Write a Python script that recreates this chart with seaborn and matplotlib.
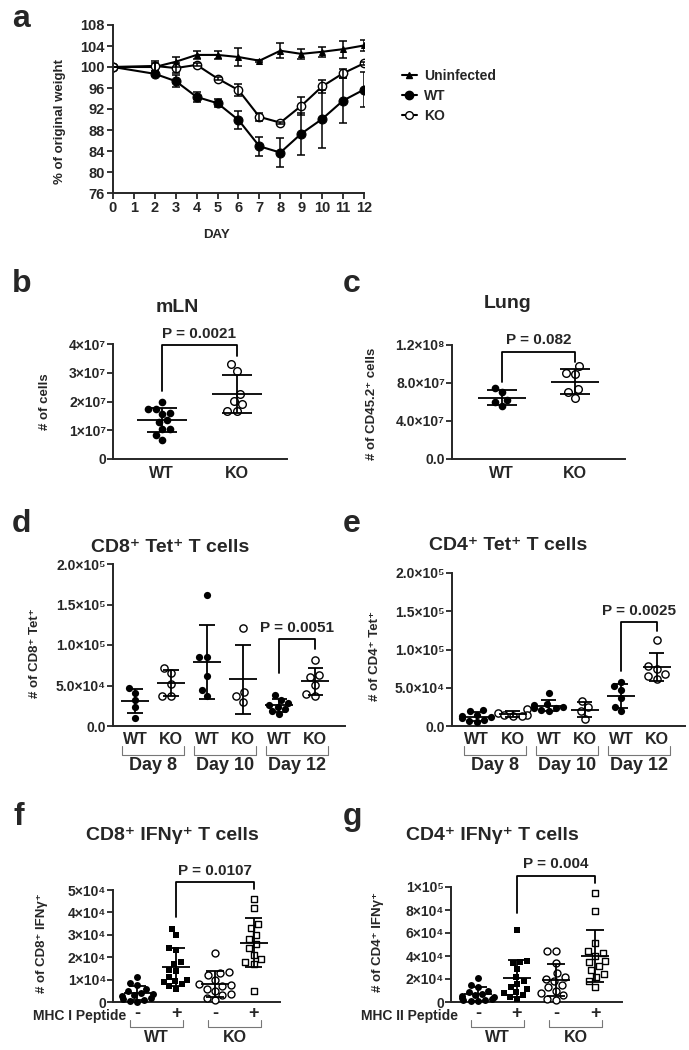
import numpy as np
import pandas as pd
import matplotlib
matplotlib.use('Agg')
import matplotlib.pyplot as plt
import matplotlib.transforms as mtransforms
from matplotlib.lines import Line2D
import seaborn as sns

W, H = 689, 1050

# ---------------- datos ----------------
# a: peso corporal (media y SD por dia)
days = [0, 2, 3, 4, 5, 6, 7, 8, 9, 10, 11, 12]
uninf_mean = [100, 100.0, 101.0, 102.3, 102.3, 101.9, 101.2, 103.1, 102.5, 102.9, 103.4, 104.1]
uninf_sd = [0, 0.8, 1.0, 0.7, 0.7, 1.7, 0.2, 1.4, 0.9, 1.0, 1.6, 1.0]
wt_mean = [100, 98.7, 97.3, 94.3, 93.1, 89.9, 84.9, 83.7, 87.3, 90.1, 93.6, 95.7]
wt_sd = [0, 0.4, 1.2, 1.0, 0.8, 1.8, 1.8, 2.8, 4.0, 5.5, 4.3, 3.3]
ko_mean = [100, 100.2, 99.8, 100.4, 97.8, 95.6, 90.5, 89.4, 92.6, 96.3, 98.8, 100.7]
ko_sd = [0, 1.0, 0.9, 0.3, 0.3, 1.2, 0.8, 0.2, 1.7, 1.3, 0.8, 0.3]

# b: mLN
b_wt = np.array([2.0, 1.75, 1.75, 1.6, 1.55, 1.35, 1.3, 1.05, 1.05, 0.85, 0.65]) * 1e7
b_ko = np.array([3.31, 3.06, 2.26, 2.02, 1.91, 1.66, 1.66]) * 1e7
b_ticks = [0, 1e7, 2e7, 3e7, 4e7]
b_labels = ['0', '1×10⁷', '2×10⁷', '3×10⁷', '4×10⁷']

# c: Lung
c_wt = np.array([7.45, 7.1, 6.2, 6.0, 5.6]) * 1e7
c_ko = np.array([9.8, 9.1, 8.95, 7.35, 7.1, 6.45]) * 1e7
c_ticks = [0, 4e7, 8e7, 1.2e8]
c_labels = ['0.0', '4.0×10⁷', '8.0×10⁷', '1.2×10⁸']

# d: CD8+ Tet+
d_wt8 = np.array([4.7, 4.1, 3.2, 2.3, 1.0]) * 1e4
d_ko8 = np.array([7.2, 6.6, 5.2, 3.7, 3.7]) * 1e4
d_wt10 = np.array([16.2, 8.5, 8.5, 6.2, 4.4, 3.7]) * 1e4
d_ko10 = np.array([12.1, 4.2, 3.7, 3.0]) * 1e4
d_wt12 = np.array([3.8, 3.2, 2.9, 2.6, 2.4, 2.1, 1.8, 1.5]) * 1e4
d_ko12 = np.array([8.1, 6.3, 6.0, 5.1, 3.9, 3.7]) * 1e4

# e: CD4+ Tet+
e_wt8 = np.array([2.1, 2.0, 1.5, 1.3, 1.2, 1.0, 0.8, 0.6, 0.5]) * 1e4
e_ko8 = np.array([2.2, 1.7, 1.5, 1.4, 1.3, 1.3]) * 1e4
e_wt10 = np.array([4.3, 2.9, 2.7, 2.5, 2.4, 2.3, 2.1, 2.0]) * 1e4
e_ko10 = np.array([3.3, 2.5, 1.9, 0.9]) * 1e4
e_wt12 = np.array([5.8, 5.2, 4.7, 3.6, 2.5, 1.9]) * 1e4
e_ko12 = np.array([11.2, 7.8, 7.5, 6.8, 6.5, 6.2]) * 1e4

tet_groups = ['WT8', 'KO8', 'WT10', 'KO10', 'WT12', 'KO12']
tet_xlabels = ['WT', 'KO', 'WT', 'KO', 'WT', 'KO']
tet_days = ['Day 8', 'Day 10', 'Day 12']
tet_ticks = [0, 5e4, 1e5, 1.5e5, 2e5]
tet_labels = ['0.0', '5.0×10⁴', '1.0×10⁵', '1.5×10⁵', '2.0×10⁵']

# f: CD8+ IFNg+
f_wt_neg = np.array([1.1, 0.85, 0.75, 0.6, 0.5, 0.4, 0.35, 0.3, 0.25, 0.2, 0.15, 0.1, 0.05, 0.02]) * 1e4
f_wt_pos = np.array([3.25, 3.0, 2.4, 2.3, 1.8, 1.7, 1.45, 1.4, 1.1, 1.0, 0.95, 0.9, 0.8, 0.7, 0.6]) * 1e4
f_ko_neg = np.array([2.2, 1.35, 1.3, 1.2, 1.0, 0.8, 0.75, 0.7, 0.6, 0.5, 0.35, 0.3, 0.2, 0.1]) * 1e4
f_ko_pos = np.array([4.6, 4.2, 3.5, 3.3, 3.0, 2.8, 2.6, 2.4, 2.1, 1.9, 1.8, 1.7, 0.5]) * 1e4
f_ticks = [0, 1e4, 2e4, 3e4, 4e4, 5e4]
f_labels = ['0', '1×10⁴', '2×10⁴', '3×10⁴', '4×10⁴', '5×10⁴']

# g: CD4+ IFNg+
g_wt_neg = np.array([2.1, 1.5, 1.3, 1.0, 0.9, 0.7, 0.6, 0.5, 0.4, 0.35, 0.3, 0.2, 0.15, 0.1, 0.05]) * 1e4
g_wt_pos = np.array([6.3, 3.6, 3.5, 3.4, 2.9, 2.2, 1.8, 1.6, 1.3, 1.1, 0.9, 0.8, 0.6, 0.4, 0.3]) * 1e4
g_ko_neg = np.array([4.4, 4.4, 3.4, 2.5, 2.2, 2.0, 1.8, 1.5, 1.3, 1.0, 0.8, 0.6, 0.3, 0.2]) * 1e4
g_ko_pos = np.array([9.5, 7.9, 5.1, 4.4, 4.3, 4.0, 3.6, 3.5, 3.1, 2.8, 2.4, 2.2, 1.8, 1.3]) * 1e4
g_ticks = [0, 2e4, 4e4, 6e4, 8e4, 1e5]
g_labels = ['0', '2×10⁴', '4×10⁴', '6×10⁴', '8×10⁴', '1×10⁵']

ifn_groups = ['WTneg', 'WTpos', 'KOneg', 'KOpos']
ifn_xlabels = ['-', '+', '-', '+']

# ---------------- estilo ----------------
sns.set_style('ticks')
plt.rcParams['font.family'] = ['Liberation Sans', 'DejaVu Sans']
plt.rcParams['font.weight'] = 'bold'
plt.rcParams['axes.linewidth'] = 1.4

fig = plt.figure(figsize=(W / 100, H / 100), dpi=100)


def py(p):
    return 1 - p / H


def px(p):
    return p / W


def make_axes(left, top, right, bottom):
    return fig.add_axes([left / W, 1 - bottom / H, (right - left) / W, (bottom - top) / H])


def estilo(ax, ticks, labels, ylim, ysize=10):
    sns.despine(ax=ax)
    ax.set_ylim(*ylim)
    ax.set_yticks(ticks)
    ax.set_yticklabels(labels, fontsize=ysize, fontweight='bold')
    ax.tick_params(axis='y', length=4, width=1.3, pad=1)
    ax.set_xlabel('')
    ax.set_ylabel('')


def puntos(ax, vals, group, order, marker='o', filled=True, size=5.5):
    df = pd.DataFrame({'g': [group] * len(vals), 'v': vals})
    if filled:
        sns.swarmplot(data=df, x='g', y='v', order=order, ax=ax, marker=marker,
                      size=size, color='black', linewidth=0)
    else:
        sns.swarmplot(data=df, x='g', y='v', order=order, ax=ax, marker=marker,
                      size=size, color='white', edgecolor='black', linewidth=1.0)


def media_sd(ax, pos, vals, hm=0.33, hc=0.2):
    m = np.mean(vals)
    s = np.std(vals, ddof=1)
    kw = dict(color='black', lw=1.3, zorder=5)
    ax.hlines(m, pos - hm, pos + hm, **kw)
    ax.vlines(pos, m - s, m + s, **kw)
    ax.hlines([m - s, m + s], pos - hc, pos + hc, **kw)


def corchete(ax, x1, x2, y1, y2, ytop, texto):
    ax.plot([x1, x1, x2, x2], [y1, ytop, ytop, y2], color='black', lw=1.3, clip_on=False)
    ax.annotate(texto, xy=((x1 + x2) / 2, ytop), xytext=(0, 3), textcoords='offset points',
                ha='center', va='bottom', fontsize=11, fontweight='bold', annotation_clip=False)


def titulo(x, y, texto):
    fig.text(px(x), py(y), texto, ha='center', va='center', fontsize=14, fontweight='bold')


def ylab(x, y, texto, fs=9.5):
    fig.text(px(x), py(y), texto, ha='center', va='center', rotation=90, fontsize=fs, fontweight='bold')


def letra(x, y, texto):
    fig.text(px(x), py(y), texto, ha='left', va='baseline', fontsize=23, fontweight='bold')


# ---------------- a ----------------
ax = make_axes(113, 25, 364, 193)
sns.lineplot(x=days, y=uninf_mean, ax=ax, color='black', lw=1.5, marker='^', markersize=5,
             markeredgecolor='black', markerfacecolor='black', label='Uninfected')
sns.lineplot(x=days, y=wt_mean, ax=ax, color='black', lw=1.5, marker='o', markersize=6.5,
             markeredgecolor='black', markerfacecolor='black', label='WT')
sns.lineplot(x=days, y=ko_mean, ax=ax, color='black', lw=1.5, marker='o', markersize=6,
             markeredgecolor='black', markerfacecolor='white', markeredgewidth=1, label='KO')
for m, s in [(uninf_mean, uninf_sd), (wt_mean, wt_sd), (ko_mean, ko_sd)]:
    ax.errorbar(days, m, yerr=s, fmt='none', ecolor='black', elinewidth=1.1, capsize=3, capthick=1.1)
sns.despine(ax=ax)
ax.set_xlim(0, 12)
ax.set_ylim(76, 108)
ax.set_xticks(range(0, 13))
ax.set_yticks(range(76, 109, 4))
ax.tick_params(length=4, width=1.3, labelsize=10.5, pad=2)
for t in ax.get_xticklabels() + ax.get_yticklabels():
    t.set_fontweight('bold')
ax.legend_.remove()
handles = [Line2D([], [], color='black', lw=1.5, marker='^', markersize=5),
           Line2D([], [], color='black', lw=1.5, marker='o', markersize=6),
           Line2D([], [], color='black', lw=1.5, marker='o', markersize=5.5,
                  markerfacecolor='white', markeredgecolor='black')]
fig.legend(handles, ['Uninfected', 'WT', 'KO'], loc='upper left',
           bbox_to_anchor=(px(389), py(56)), frameon=False,
           handlelength=1.1, handletextpad=0.5, labelspacing=0.45,
           prop={'weight': 'bold', 'size': 10})
fig.text(px(217), py(235), 'DAY', ha='center', va='center', fontsize=9.5, fontweight='bold')
ylab(60, 121, '% of original weight')
letra(12, 27, 'a')

# ---------------- b ----------------
ax = make_axes(113, 344, 287, 459)
order = ['WT', 'KO']
puntos(ax, b_wt, 'WT', order, filled=True)
puntos(ax, b_ko, 'KO', order, filled=False)
media_sd(ax, 0, b_wt)
media_sd(ax, 1, b_ko)
estilo(ax, b_ticks, b_labels, (0, 4e7))
ax.set_xlim(-0.65, 1.67)
ax.tick_params(axis='x', length=0, labelsize=11.5, pad=5)
corchete(ax, 0, 1, 2.35e7, 3.6e7, 3.95e7, 'P = 0.0021')
titulo(177, 307, 'mLN')
ylab(45, 402, '# of cells')
letra(12, 292, 'b')

# ---------------- c ----------------
ax = make_axes(452, 345, 625, 459)
puntos(ax, c_wt, 'WT', order, filled=True)
puntos(ax, c_ko, 'KO', order, filled=False)
media_sd(ax, 0, c_wt)
media_sd(ax, 1, c_ko)
estilo(ax, c_ticks, c_labels, (0, 1.2e8))
ax.set_xlim(-0.68, 1.68)
ax.tick_params(axis='x', length=0, labelsize=11.5, pad=5)
corchete(ax, 0, 1, 8.15e7, 1.02e8, 1.13e8, 'P = 0.082')
titulo(508, 304, 'Lung')
ylab(372, 404, '# of CD45.2⁺ cells')
letra(343, 292, 'c')


# ---------------- d / e ----------------
def panel_tet(box, datos, pv, titulo_txt, tpos, ylabel_txt, ylpos, letra_txt, lpos, xlim):
    ax = make_axes(*box)
    for i, (g, v) in enumerate(zip(tet_groups, datos)):
        puntos(ax, v, g, tet_groups, filled=(i % 2 == 0), size=5.2)
        media_sd(ax, i, v, hm=0.39, hc=0.21)
    estilo(ax, tet_ticks, tet_labels, (0, 2e5))
    ax.set_xticks(range(6))
    ax.set_xticklabels(tet_xlabels)
    ax.set_xlim(*xlim)
    ax.tick_params(axis='x', length=0, labelsize=11.5, pad=4)
    corchete(ax, 4, 5, *pv)
    trans = mtransforms.blended_transform_factory(ax.transData, fig.transFigure)
    for i, lab in enumerate(tet_days):
        c = 2 * i + 0.5
        ax.plot([c - 0.86, c - 0.86, c + 0.86, c + 0.86], [py(746), py(755), py(755), py(746)],
                transform=trans, color='#777777', lw=0.8, clip_on=False)
        ax.text(c, py(766), lab, transform=trans, ha='center', va='center',
                fontsize=13, fontweight='bold')
    titulo(*tpos, titulo_txt)
    ylab(*ylpos, ylabel_txt)
    letra(*lpos, letra_txt)


panel_tet((113, 564, 345, 726), [d_wt8, d_ko8, d_wt10, d_ko10, d_wt12, d_ko12],
          (6.55e4, 9.55e4, 1.075e5, 'P = 0.0051'), 'CD8⁺ Tet⁺ T cells', (170, 547),
          '# of CD8⁺ Tet⁺', (35, 653), 'd', (12, 532), (-0.61, 5.83))
panel_tet((452, 573, 685, 726), [e_wt8, e_ko8, e_wt10, e_ko10, e_wt12, e_ko12],
          (7.15e4, 1.24e5, 1.36e5, 'P = 0.0025'), 'CD4⁺ Tet⁺ T cells', (508, 545),
          '# of CD4⁺ Tet⁺', (375, 656), 'e', (343, 532), (-0.69, 5.78))


# ---------------- f / g ----------------
def panel_ifn(box, datos, ticks, labels, ylim, pv, titulo_txt, tpos, ylabel_txt, ylpos,
              letra_txt, lpos, xlim, pep_txt, pep_x):
    ax = make_axes(*box)
    estilos = [('o', True), ('s', True), ('o', False), ('s', False)]
    for i, (g, v) in enumerate(zip(ifn_groups, datos)):
        mk, fl = estilos[i]
        puntos(ax, v, g, ifn_groups, marker=mk, filled=fl, size=5)
        media_sd(ax, i, v, hm=0.35, hc=0.22)
    for col in ax.collections:
        col.set_clip_on(False)
    estilo(ax, ticks, labels, ylim)
    ax.set_xticks(range(4))
    ax.set_xticklabels(ifn_xlabels)
    ax.set_xlim(*xlim)
    ax.tick_params(axis='x', length=0, labelsize=13, pad=2)
    corchete(ax, 1, 3, *pv)
    trans = mtransforms.blended_transform_factory(ax.transData, fig.transFigure)
    for i, lab in enumerate(['WT', 'KO']):
        c = 2 * i + 0.5
        ax.plot([c - 0.68, c - 0.68, c + 0.68, c + 0.68], [py(1020), py(1027), py(1027), py(1020)],
                transform=trans, color='#777777', lw=0.8, clip_on=False)
        ax.text(c, py(1037), lab, transform=trans, ha='center', va='center',
                fontsize=11.5, fontweight='bold')
    fig.text(px(pep_x), py(1016), pep_txt, ha='right', va='center', fontsize=10, fontweight='bold')
    titulo(*tpos, titulo_txt)
    ylab(*ylpos, ylabel_txt)
    letra(*lpos, letra_txt)


panel_ifn((113, 890, 280, 1002), [f_wt_neg, f_wt_pos, f_ko_neg, f_ko_pos], f_ticks, f_labels,
          (0, 5e4), (3.8e4, 5.03e4, 5.37e4, 'P = 0.0107'), 'CD8⁺ IFNγ⁺ T cells', (172, 835),
          '# of CD8⁺ IFNγ⁺', (42, 943), 'f', (14, 825), (-0.62, 3.67), 'MHC I Peptide', 126)
panel_ifn((451, 887, 622, 1002), [g_wt_neg, g_wt_pos, g_ko_neg, g_ko_pos], g_ticks, g_labels,
          (0, 1e5), (7.74e4, 1.035e5, 1.1e5, 'P = 0.004'), 'CD4⁺ IFNγ⁺ T cells', (492, 835),
          '# of CD4⁺ IFNγ⁺', (378, 942), 'g', (343, 825), (-0.69, 3.69), 'MHC II Peptide', 458)

fig.savefig('out.png', dpi=100)
